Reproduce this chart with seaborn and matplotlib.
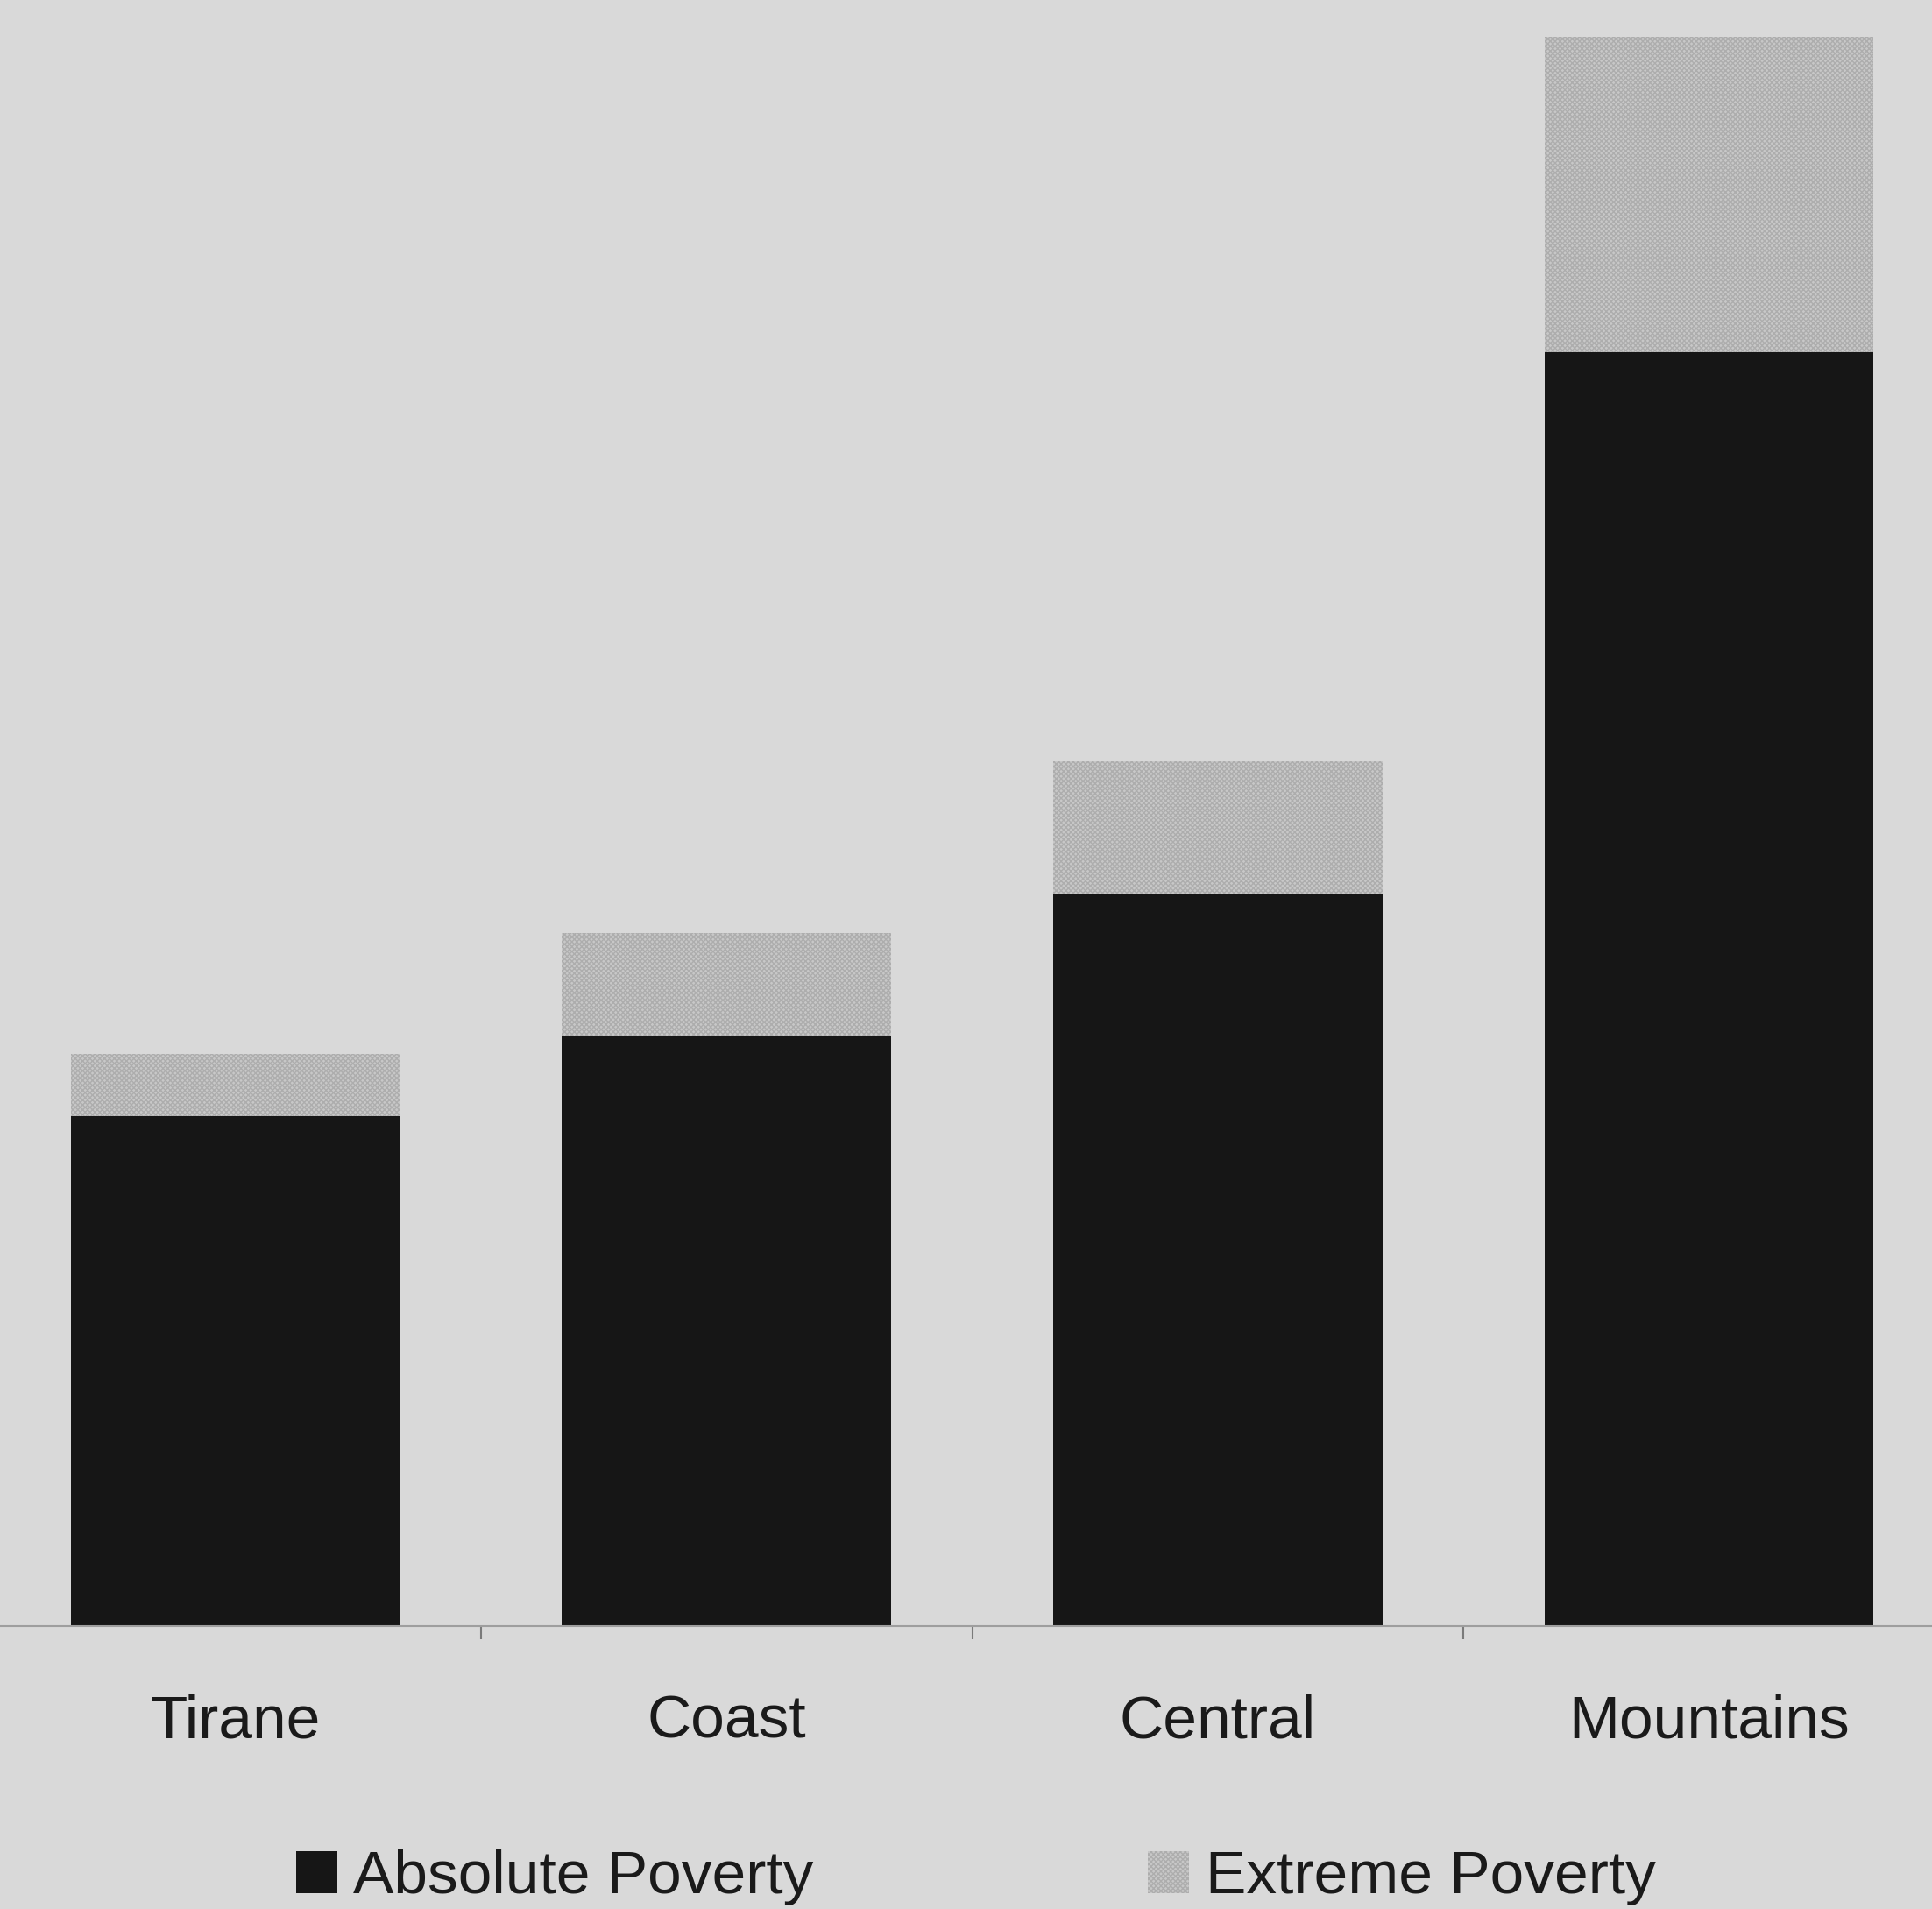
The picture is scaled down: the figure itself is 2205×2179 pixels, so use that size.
import matplotlib
matplotlib.use("Agg")
import matplotlib.pyplot as plt
from matplotlib.patches import Patch
from matplotlib.ticker import FixedLocator, NullFormatter
import seaborn as sns
import pandas as pd

# Poverty headcount by region (%), extreme poverty stacked on top
regions = ["Tirane", "Coast", "Central", "Mountains"]
absolute_poverty = [17.8, 20.6, 25.6, 44.5]
extreme_poverty = [2.2, 3.6, 4.6, 11.0]
series_labels = ["Absolute Poverty", "Extreme Poverty"]

df = pd.DataFrame({
    "region": regions,
    "absolute": absolute_poverty,
    "total": [a + e for a, e in zip(absolute_poverty, extreme_poverty)],
})

sns.set_theme(style="white")
plt.rcParams["font.family"] = ["Liberation Sans", "DejaVu Sans"]
plt.rcParams["hatch.linewidth"] = 1.0

BG = "#d9d9d9"
DARK = "#161616"
LIGHT = "#c8c8c8"
STIPPLE = "#adadad"
HATCH = "xxxxxx"

fig = plt.figure(figsize=(22.05, 21.79), dpi=100, facecolor=BG)
ax = fig.add_axes([-0.0054, 0.1482, 1.0172, 0.8518])
ax.set_facecolor(BG)

sns.barplot(data=df, x="region", y="total", color=LIGHT, width=0.67,
            saturation=1, ax=ax)
for p in ax.patches:
    p.set_hatch(HATCH)
    p.set_edgecolor(STIPPLE)
    p.set_linewidth(0)
sns.barplot(data=df, x="region", y="absolute", color=DARK, width=0.67,
            saturation=1, ax=ax, edgecolor="none")

ax.set_xlim(-0.5, 3.5)
ax.set_ylim(0, 56.8)
ax.set_xlabel("")
ax.set_ylabel("")
ax.set_yticks([])

for side in ["top", "right", "left"]:
    ax.spines[side].set_visible(False)
ax.spines["bottom"].set_color("#9e9e9e")
ax.spines["bottom"].set_linewidth(1.5)

ax.tick_params(axis="x", which="major", length=0, pad=56, labelsize=50,
               labelcolor="#1a1a1a")
ax.xaxis.set_minor_locator(FixedLocator([0.5, 1.5, 2.5]))
ax.xaxis.set_minor_formatter(NullFormatter())
ax.tick_params(axis="x", which="minor", length=11, width=1.5,
               color="#7a7a7a", direction="out", bottom=True)

handles = [
    Patch(facecolor=DARK, edgecolor="none", label=series_labels[0]),
    Patch(facecolor=LIGHT, edgecolor=STIPPLE, linewidth=0, hatch=HATCH,
          label=series_labels[1]),
]
fig.legend(handles=handles, loc="center", bbox_to_anchor=(0.505, 0.0165),
           ncol=2, frameon=False, fontsize=50, handlelength=0.68,
           handleheight=0.68, handletextpad=0.26, columnspacing=5.5,
           labelcolor="#1a1a1a")

fig.savefig("out.png", dpi=100, facecolor=BG)
